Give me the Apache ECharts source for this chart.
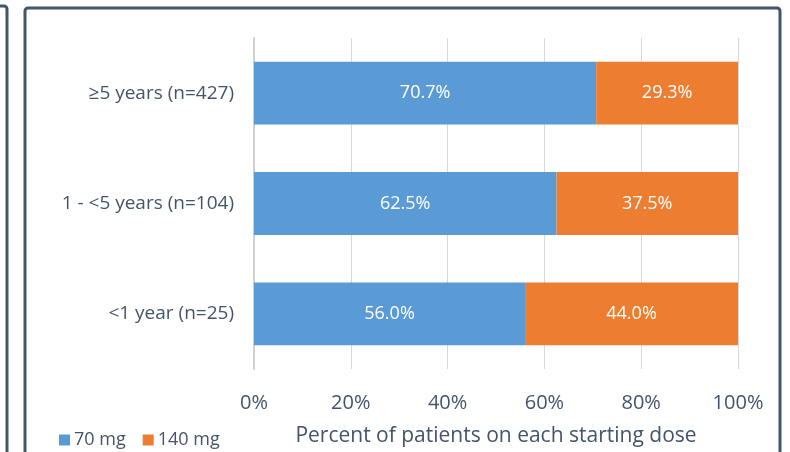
<!DOCTYPE html>
<html>
<head>
<meta charset="utf-8">
<script src="https://cdn.jsdelivr.net/npm/echarts@6/dist/echarts.min.js"></script>
<style>
html,body{margin:0;padding:0;background:#fff;}
#chart{width:790px;height:452px;}
</style>
</head>
<body>
<div id="chart"></div>
<script>
// Time-since-diagnosis groups, listed bottom to top
const categories = ['<1 year (n=25)', '1 - <5 years (n=104)', '≥5 years (n=427)'];
const dose70 = [56.0, 62.5, 70.7];
const dose140 = [44.0, 37.5, 29.3];
const seriesNames = ['70 mg', '140 mg'];
const xTicks = [0, 20, 40, 60, 80, 100];

const textColor = '#44546a';
const font = '"Open Sans", sans-serif';

const chart = echarts.init(document.getElementById('chart'), null, {renderer: 'canvas'});

const barLabel = {
  show: true,
  position: 'inside',
  color: '#ffffff',
  fontFamily: font,
  fontSize: 18,
  formatter: p => p.value.toFixed(1) + '%'
};

chart.setOption({
  animation: false,
  backgroundColor: '#ffffff',
  graphic: [
    {
      type: 'rect',
      shape: {x: -40, y: 6, width: 47, height: 500, r: 3},
      style: {fill: 'none', stroke: '#44546a', lineWidth: 3}
    },
    {
      type: 'rect',
      shape: {x: 25, y: 8, width: 755, height: 500, r: 3},
      style: {fill: 'none', stroke: '#44546a', lineWidth: 3}
    }
  ],
  legend: {
    data: seriesNames,
    left: 54,
    top: 426,
    itemWidth: 11,
    itemHeight: 11,
    itemGap: 17,
    icon: 'rect',
    textStyle: {color: textColor, fontFamily: font, fontSize: 18, padding: [0, 0, 0, -1]}
  },
  grid: {left: 254, right: 52, top: 38, bottom: 78, containLabel: false},
  xAxis: {
    type: 'value',
    min: 0,
    max: 100,
    interval: 20,
    axisLabel: {
      color: textColor,
      fontFamily: font,
      fontSize: 20,
      margin: 24,
      formatter: v => xTicks.includes(v) ? v + '%' : ''
    },
    axisLine: {show: false},
    axisTick: {show: false},
    splitLine: {lineStyle: {color: '#d9d9d9', width: 1}},
    name: 'Percent of patients on each starting dose',
    nameLocation: 'middle',
    nameGap: 57,
    nameTextStyle: {color: textColor, fontFamily: font, fontSize: 21}
  },
  yAxis: {
    type: 'category',
    data: categories,
    axisLine: {show: true, lineStyle: {color: '#d0d0d0', width: 2}},
    axisTick: {show: false},
    axisLabel: {color: textColor, fontFamily: font, fontSize: 19, margin: 20}
  },
  series: [
    {
      name: seriesNames[0],
      type: 'bar',
      stack: 'dose',
      data: dose70,
      barWidth: '57%',
      itemStyle: {color: '#5b9bd5'},
      label: barLabel
    },
    {
      name: seriesNames[1],
      type: 'bar',
      stack: 'dose',
      data: dose140,
      barWidth: '57%',
      itemStyle: {color: '#ed7d31'},
      label: barLabel
    }
  ]
});
</script>
</body>
</html>
